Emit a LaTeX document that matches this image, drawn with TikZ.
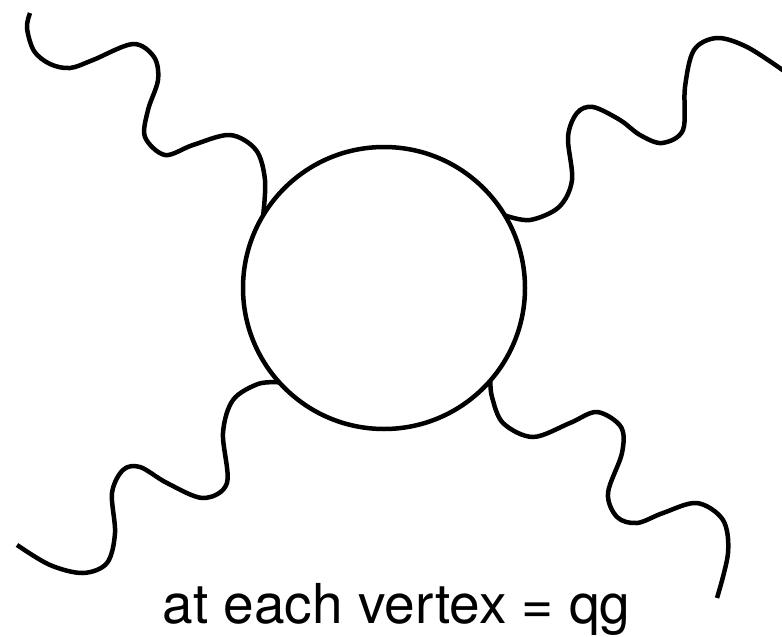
\documentclass[tikz,border=0pt]{standalone}
\usepackage{fontspec}
\setmainfont{TeX Gyre Heros}
\begin{document}
\begin{tikzpicture}[x=1pt,y=-1pt,
  wiggle/.style={line width=4.5pt, smooth, tension=0.55},
  loopstyle/.style={draw, circle, line width=4.5pt, minimum size=282pt, inner sep=0pt, outer sep=0pt},
  caption/.style={inner sep=0pt, anchor=base, font=\fontsize{55}{60}\selectfont}]
\useasboundingbox (0,0) rectangle (782,637);
\begin{scope}
\clip (0,0) rectangle (782,637);
\node[loopstyle] (loop) at (384,288) {};
\coordinate (tl) at (loop.149.5);
\coordinate (tr) at (loop.31);
\coordinate (bl) at (loop.222);
\coordinate (br) at (loop.-41);
\draw[wiggle] plot coordinates {(30,13) (27,28) (34,51) (50,64) (70,68) (93,60) (133,44) (154,57) (158,80) (148,110) (145,137) (165,155) (193,145) (230,135) (256,150) (265,180) (tl)};
\draw[wiggle] plot coordinates {(tr) (530,220) (559,207) (572,180) (568,137) (577,113) (593,107) (620,120) (640,135) (662,143) (683,130) (685,87) (694,50) (717,38) (747,47) (784,71)};
\draw[wiggle] plot coordinates {(17,545) (50,565) (83,573) (107,563) (115,533) (112,493) (123,470) (140,467) (167,483) (203,498) (227,483) (223,433) (233,400) (258,384) (bl)};
\draw[wiggle] plot coordinates {(br) (492,397) (503,423) (533,437) (570,423) (597,412) (621,427) (622,453) (608,493) (617,517) (637,523) (663,513) (697,503) (723,520) (728,553) (717,598)};
\end{scope}
\node[caption] (label) at (396.5,623) {at each vertex = qg};
\end{tikzpicture}
\end{document}
